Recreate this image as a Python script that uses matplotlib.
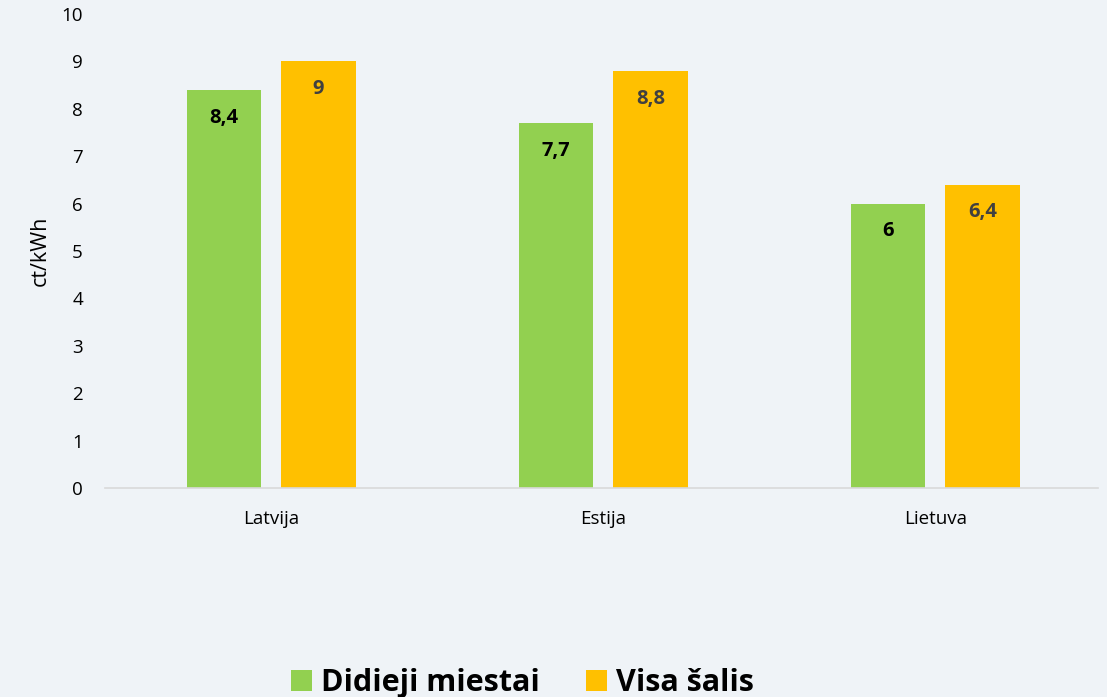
import numpy as np
import matplotlib.pyplot as plt

salys = ["Latvija", "Estija", "Lietuva"]
didieji_miestai = [8.4, 7.7, 6.0]
visa_salis = [9.0, 8.8, 6.4]
etiketes_miestai = ["8,4", "7,7", "6"]
etiketes_salis = ["9", "8,8", "6,4"]

plt.rcParams['font.family'] = ['Open Sans', 'DejaVu Sans']

fon = "#EFF3F7"
fig = plt.figure(figsize=(11.07, 6.97), dpi=100, facecolor=fon)
ax = fig.add_axes([0.095, 0.300, 0.897, 0.680], facecolor=fon)

x = np.arange(len(salys))
w = 0.224
off = 0.142
b1 = ax.bar(x - off, didieji_miestai, w, color="#92D050", label="Didieji miestai")
b2 = ax.bar(x + off, visa_salis, w, color="#FFC000", label="Visa šalis")

for rect, txt in zip(b1, etiketes_miestai):
    ax.annotate(txt, (rect.get_x() + rect.get_width() / 2, rect.get_height()),
                xytext=(0, -20), textcoords="offset points", ha="center", va="center",
                fontsize=14.5, fontweight="bold", color="black")
for rect, txt in zip(b2, etiketes_salis):
    ax.annotate(txt, (rect.get_x() + rect.get_width() / 2, rect.get_height()),
                xytext=(0, -20), textcoords="offset points", ha="center", va="center",
                fontsize=14.5, fontweight="bold", color="#404040")

ax.set_xlim(-0.5, 2.49)
ax.set_ylim(0, 10)
ax.set_yticks(range(0, 11))
ax.set_xticks(x)
ax.set_xticklabels(salys)
ax.tick_params(axis="both", length=0, labelsize=13.5, colors="black")
ax.tick_params(axis="x", pad=16)
ax.tick_params(axis="y", pad=16)
for s in ["top", "right", "left"]:
    ax.spines[s].set_visible(False)
ax.spines["bottom"].set_color("#D9D9D9")
ax.spines["bottom"].set_linewidth(1.2)
ax.set_ylabel("ct/kWh", fontsize=15.5, labelpad=8)

fig.legend(handles=[b1, b2], loc="center", bbox_to_anchor=(0.472, 0.02), ncol=2,
           frameon=False, handlelength=0.7, handleheight=0.7, handletextpad=0.3,
           columnspacing=1.5, prop={"size": 22, "weight": "bold"})

fig.savefig("out.png", dpi=100, facecolor=fon)
